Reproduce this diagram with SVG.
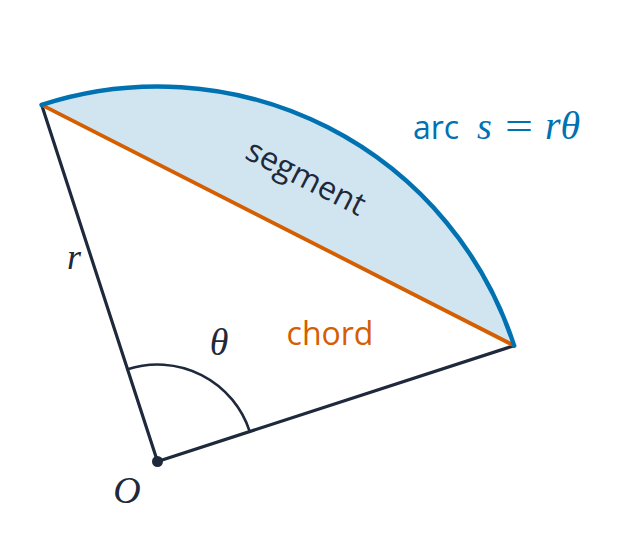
<svg xmlns="http://www.w3.org/2000/svg" width="639" height="557" viewBox="0 0 639 557">
  <style>
    .sans { font-family: "Open Sans", "Liberation Sans", sans-serif; }
    .math { font-family: "Liberation Serif", "DejaVu Serif", serif; font-style: italic; }
    .dark { stroke: #1e293b; fill: none; stroke-linecap: round; }
  </style>
  <rect width="639" height="557" fill="#ffffff"/>
  <g id="segment-region">
    <path d="M 41.62 104.85 A 375 375 0 0 1 514.15 345.62 Z" fill="#d1e5f1" stroke="none"/>
  </g>
  <g id="connectors">
    <line id="radius-a" class="dark" x1="157.5" y1="461.5" x2="41.62" y2="104.85" stroke-width="3.2"/>
    <line id="radius-b" class="dark" x1="157.5" y1="461.5" x2="514.15" y2="345.62" stroke-width="3.2"/>
    <path id="angle-arc" class="dark" d="M 249.75 431.53 A 97 97 0 0 0 127.53 369.25" stroke-width="2.6"/>
    <line id="chord" x1="41.62" y1="104.85" x2="514.15" y2="345.62" stroke="#d55e00" stroke-width="3.8" stroke-linecap="round"/>
    <path id="arc" d="M 41.62 104.85 A 375 375 0 0 1 514.15 345.62" fill="none" stroke="#0072b2" stroke-width="4.5" stroke-linecap="round"/>
  </g>
  <g id="center-O">
    <circle cx="157.5" cy="461.5" r="5.5" fill="#1e293b"/>
    <text class="math" x="127" y="503" font-size="38" text-anchor="middle" fill="#1e293b">O</text>
  </g>
  <g id="label-r">
    <text class="math" x="74" y="269" font-size="36" text-anchor="middle" fill="#1e293b">r</text>
  </g>
  <g id="label-theta">
    <text class="math" x="219" y="355" font-size="38" text-anchor="middle" fill="#1e293b">θ</text>
  </g>
  <g id="label-chord">
    <text class="sans" x="330" y="345" font-size="32" text-anchor="middle" fill="#d55e00">chord</text>
  </g>
  <g id="label-segment">
    <text class="sans" x="0" y="0" font-size="32" text-anchor="middle" fill="#1e293b" transform="translate(301,187) rotate(27)">segment</text>
  </g>
  <g id="label-arc" fill="#0072b2">
    <text class="sans" x="413" y="139" font-size="32">arc</text>
    <text class="math" x="477" y="139" font-size="38">s</text>
    <text font-family="Liberation Serif, serif" x="505" y="139" font-size="38" textLength="28" lengthAdjust="spacingAndGlyphs">=</text>
    <text class="math" x="545" y="139" font-size="40">rθ</text>
  </g>
</svg>
